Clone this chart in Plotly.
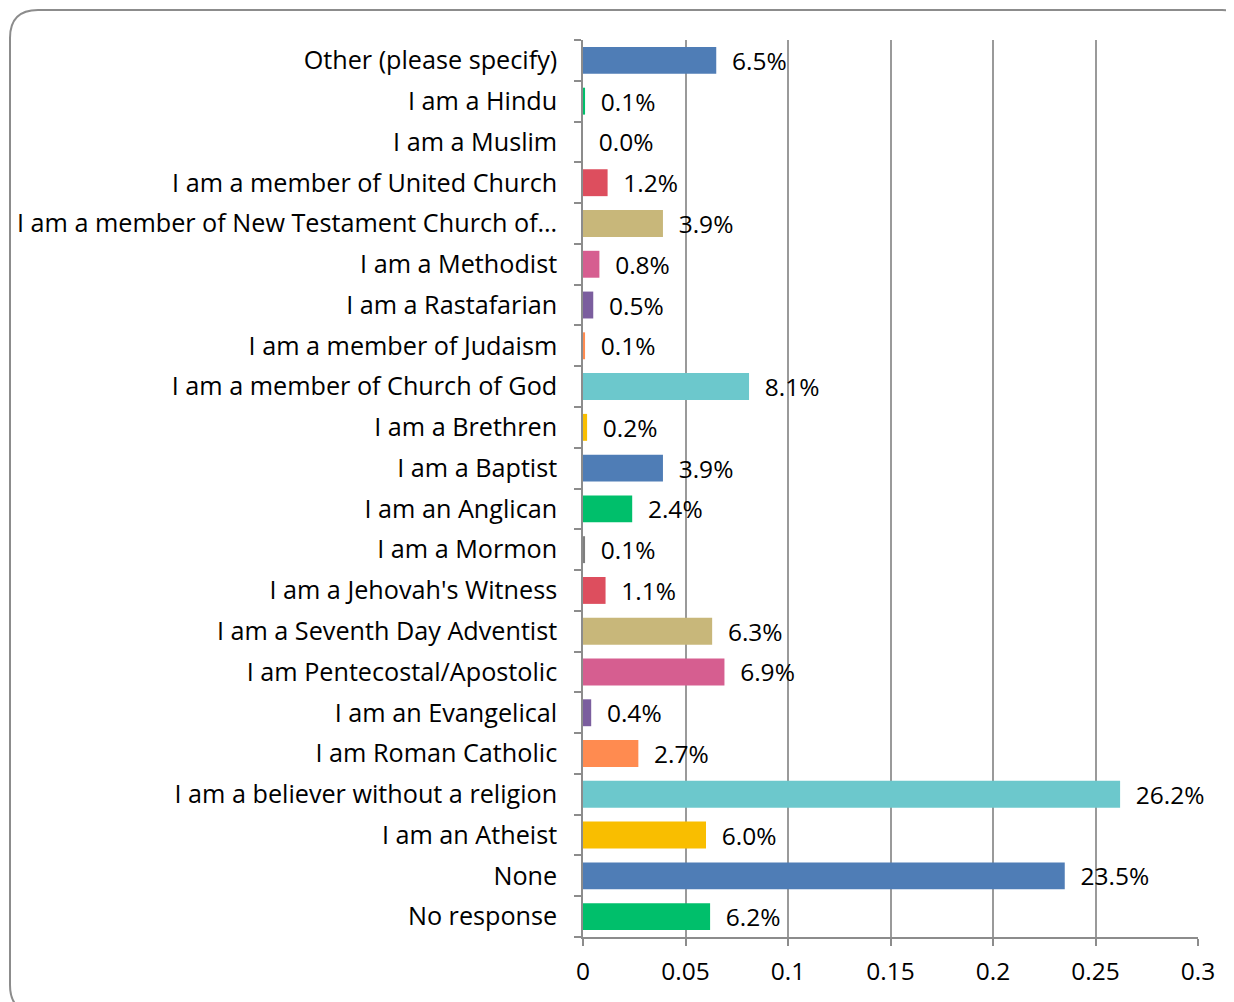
import plotly.graph_objects as go

categories = [
    "No response",
    "None",
    "I am an Atheist",
    "I am a believer without a religion",
    "I am Roman Catholic",
    "I am an Evangelical",
    "I am Pentecostal/Apostolic",
    "I am a Seventh Day Adventist",
    "I am a Jehovah's Witness",
    "I am a Mormon",
    "I am an Anglican",
    "I am a Baptist",
    "I am a Brethren",
    "I am a member of Church of God",
    "I am a member of Judaism",
    "I am a Rastafarian",
    "I am a Methodist",
    "I am a member of New Testament Church of\u2026",
    "I am a member of United Church",
    "I am a Muslim",
    "I am a Hindu",
    "Other (please specify)",
]
values = [0.062, 0.235, 0.060, 0.262, 0.027, 0.004, 0.069, 0.063, 0.011, 0.001,
          0.024, 0.039, 0.002, 0.081, 0.001, 0.005, 0.008, 0.039, 0.012, 0.000,
          0.001, 0.065]
palette = ["#00BF6B", "#4F7DB6", "#F9BE00", "#6CC8CC", "#FF8B50",
           "#7B5E9E", "#D65E90", "#C8B77A", "#DD4E5E", "#7F7F7F"]
colors = [palette[i % len(palette)] for i in range(len(categories))]
x_ticks = [0, 0.05, 0.1, 0.15, 0.2, 0.25, 0.3]
x_tick_labels = ["0", "0.05", "0.1", "0.15", "0.2", "0.25", "0.3"]

# page body has an 8px margin, so the figure is sized to fit the window
OFF = 8
W, H = 1234 - OFF, 1002 - OFF
L, R, T, B = 583 - OFF, 36, 40 - OFF, 65
FONT = "Open Sans"
FS = 25.2

fig = go.Figure(go.Bar(
    x=values, y=categories, orientation="h",
    marker=dict(color=colors, line=dict(width=0)),
    texttemplate="  %{x:.1%}", textposition="outside",
    textfont=dict(family=FONT, size=24.5, color="#000000"),
    cliponaxis=False, constraintext="none",
))

# rounded chart border (decorative), page pixel -> paper coordinates
pw, ph = W - L - R, H - T - B
def px(X):
    return (X - OFF - L) / pw
def py(Y):
    return (H - B - (Y - OFF)) / ph
x0, y0, x1, y1, r = 10, 10, 1250, 1013, 28
path = (f"M {px(x0 + r)},{py(y0)} L {px(x1 - r)},{py(y0)} "
        f"Q {px(x1)},{py(y0)} {px(x1)},{py(y0 + r)} L {px(x1)},{py(y1 - r)} "
        f"Q {px(x1)},{py(y1)} {px(x1 - r)},{py(y1)} L {px(x0 + r)},{py(y1)} "
        f"Q {px(x0)},{py(y1)} {px(x0)},{py(y1 - r)} L {px(x0)},{py(y0 + r)} "
        f"Q {px(x0)},{py(y0)} {px(x0 + r)},{py(y0)} Z")

fig.update_layout(
    width=W, height=H,
    margin=dict(l=L, r=R, t=T, b=B, autoexpand=False),
    paper_bgcolor="white", plot_bgcolor="white",
    showlegend=False, bargap=0.34,
    font=dict(family=FONT, size=FS, color="#000000"),
    shapes=[dict(type="path", path=path, xref="paper", yref="paper",
                 line=dict(color="#8C8C8C", width=2), layer="below")],
)
fig.update_xaxes(
    range=[0, 0.3], tickvals=x_ticks, ticktext=x_tick_labels,
    showgrid=True, gridcolor="#9A9A9A", gridwidth=1.5,
    showline=True, linecolor="#8C8C8C", linewidth=1.5,
    ticks="outside", ticklen=7, tickcolor="#8C8C8C", tickwidth=1.5,
    ticklabelstandoff=5, automargin=False,
    zeroline=False, tickfont=dict(family=FONT, size=24.5),
)
fig.update_yaxes(
    type="category", categoryorder="array", categoryarray=categories,
    showline=True, linecolor="#8C8C8C", linewidth=1.5,
    ticks="outside", ticklen=7, tickcolor="#8C8C8C", tickwidth=1.5,
    tickson="boundaries", ticklabelstandoff=19, automargin=False,
    showgrid=False, tickfont=dict(family=FONT, size=FS),
)

fig.write_html("out.html")
